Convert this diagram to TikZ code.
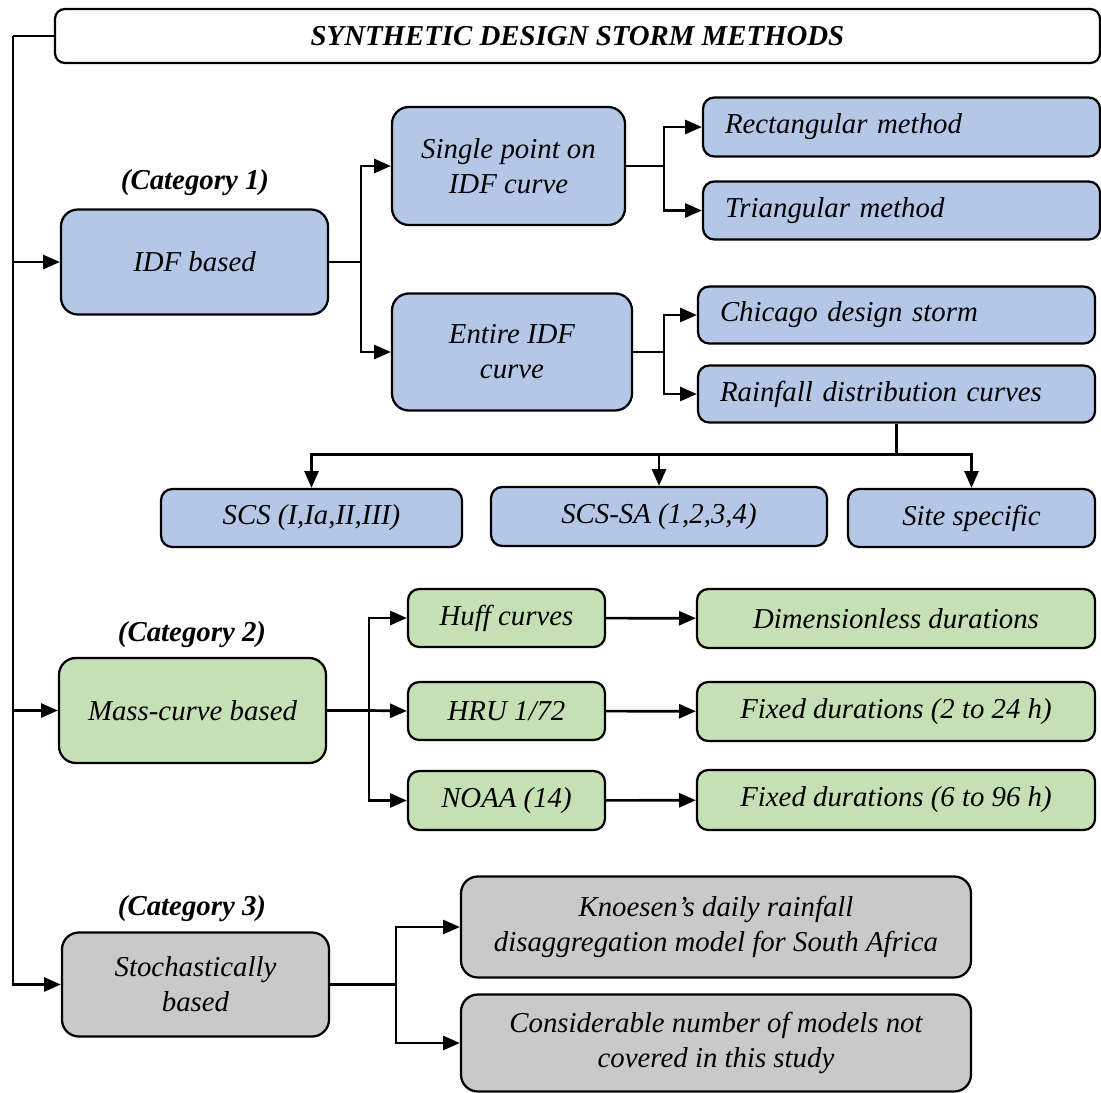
\documentclass[tikz,border=0pt]{standalone}
\usepackage{fontspec}
\setmainfont{Liberation Serif}[
  ItalicFont={Liberation Serif Italic},
  BoldItalicFont={Liberation Serif Bold Italic}]
\usepackage{tikz}
\usetikzlibrary{
  arrows.meta,
  calc,
  positioning
}
\definecolor{idfblue}{HTML}{B4C7E7}
\definecolor{massgreen}{HTML}{C5E0B4}
\definecolor{stochgray}{HTML}{C9C9C9}

\begin{document}
\begin{tikzpicture}[
  x=0.025cm, y=-0.025cm,
  font=\rmfamily\fontsize{20.5}{25}\selectfont\itshape,
  box/.style={draw, line width=1.6pt, rounded corners=#1, align=center,
              inner sep=0pt},
  box/.default=8pt,
  sz/.style 2 args={minimum width=#1*0.025cm, minimum height=#2*0.025cm},
  lefttext/.style={text width=353*0.025cm, align=left},
  blue box/.style={box=#1, fill=idfblue},
  blue box/.default=8pt,
  green box/.style={box=#1, fill=massgreen},
  green box/.default=8pt,
  gray box/.style={box=#1, fill=stochgray},
  gray box/.default=12pt,
  cat/.style={font=\rmfamily\fontsize{20.5}{25}\selectfont\bfseries\itshape},
  link/.style={line width=1.9pt},
  arr/.style={link, -{Triangle[length=12pt, width=10pt]}},
]
  \useasboundingbox (0,0) rectangle (1101,1093);

  % Title
  \node[box=7pt, sz={1045}{54}, font=\rmfamily\fontsize{20.5}{25}\selectfont\bfseries\itshape]
    (title) at (577.5,36) {SYNTHETIC DESIGN STORM METHODS};
  \coordinate (spine) at (13,36);
  \draw[link] (title.west) -- (spine);

  % Category 1
  \node[blue box=12pt, sz={267}{105}] (idf) at (194.5,262) {IDF based};
  \node[cat] at (195,183) {(Category 1)};
  \node[blue box=12pt, sz={233}{118}] (single) at (508.5,166) {Single point on\\IDF curve};
  \node[blue box=12pt, sz={240}{117}] (entire) at (512,352) {Entire IDF\\curve};
  \node[blue box, sz={397}{59}, lefttext] (rect) at (901.5,127) {Rectangular method};
  \node[blue box, sz={397}{58}, lefttext] (tri) at (901.5,210.5) {Triangular method};
  \node[blue box, sz={397}{57}, lefttext] (chic) at (896.5,315) {Chicago design storm};
  \node[blue box, sz={397}{57}, lefttext] (rain) at (896.5,394) {Rainfall distribution curves};
  \node[blue box, sz={301}{58}] (scs) at (311.5,518) {SCS (I,Ia,II,III)};
  \node[blue box, sz={336}{59}] (scssa) at (659,516.5) {SCS-SA (1,2,3,4)};
  \node[blue box, sz={247}{58}] (site) at (971.5,518) {Site specific};

  % Category 2
  \node[green box=12pt, sz={267}{105}] (mass) at (192.5,710.5) {Mass-curve based};
  \node[cat] at (192,635) {(Category 2)};
  \node[green box, sz={197}{58}] (huff) at (506.5,618) {Huff curves};
  \node[green box, sz={197}{58}] (hru) at (506.5,711) {HRU 1/72};
  \node[green box, sz={197}{59}] (noaa) at (506.5,800.5) {NOAA (14)};
  \node[green box, sz={398}{59}] (dimless) at (896,618.5) {Dimensionless durations};
  \node[green box, sz={398}{59}] (fix1) at (896,711.5) {Fixed durations (2 to 24 h)};
  \node[green box, sz={398}{60}] (fix2) at (896,800) {Fixed durations (6 to 96 h)};

  % Category 3
  \node[gray box, sz={267}{104}] (stoch) at (195.5,984.5) {Stochastically\\based};
  \node[cat] at (192,909) {(Category 3)};
  \node[gray box, sz={510}{101}] (knoe) at (716,927) {Knoesen’s daily rainfall\\disaggregation model for South Africa};
  \node[gray box, sz={510}{97}] (consid) at (716,1043) {Considerable number of models not\\covered in this study};

  % Connectors
  \draw[arr] (spine) |- (idf.west);
  \draw[arr] (spine) |- (mass.west);
  \draw[arr] (spine) |- (stoch.west);

  \draw[link] (idf.east) -- ++(32,0) coordinate (j1);
  \draw[arr] (j1) |- (single.west);
  \draw[arr] (j1) |- (entire.west);

  \draw[link] (single.east) -- ++(38,0) coordinate (j2);
  \draw[arr] (j2) |- (rect.west);
  \draw[arr] (j2) |- (tri.west);

  \draw[link] (entire.east) -- ++(31,0) coordinate (j3);
  \draw[arr] (j3) |- (chic.west);
  \draw[arr] (j3) |- (rain.west);

  \draw[link] (rain.south) -- ++(0,31) coordinate (j4);
  \draw[arr] (j4) -| (scs.north);
  \draw[arr] (j4) -| (scssa.north);
  \draw[arr] (j4) -| (site.north);

  \draw[link] (mass.east) -- ++(42,0) coordinate (j5);
  \draw[arr] (j5) |- (huff.west);
  \draw[arr] (j5) -- (hru.west);
  \draw[arr] (j5) |- (noaa.west);

  \draw[arr] (huff) -- (dimless);
  \draw[arr] (hru) -- (fix1);
  \draw[arr] (noaa) -- (fix2);

  \draw[link] (stoch.east) -- ++(66,0) coordinate (j6);
  \draw[arr] (j6) |- (knoe.west);
  \draw[arr] (j6) |- (consid.west);
\end{tikzpicture}
\end{document}
